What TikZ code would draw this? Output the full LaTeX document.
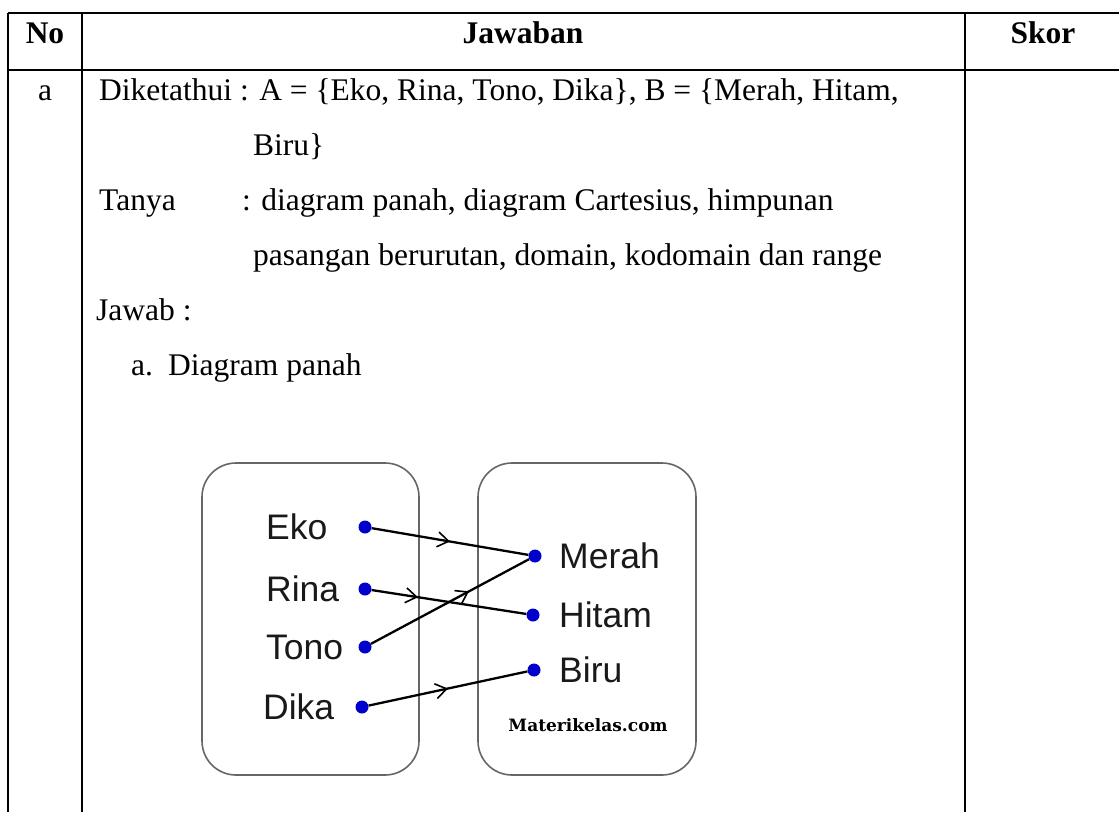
\documentclass[tikz,border=0pt]{standalone}
\usepackage{fontspec}
\setmainfont{Liberation Serif}
\newfontfamily\labelfont{Liberation Sans}
\newfontfamily\wmfont{DejaVu Serif}
\usetikzlibrary{arrows.meta,decorations.markings}
\begin{document}
\begin{tikzpicture}[x=1pt,y=-1pt,
  tablerule/.style={line width=1.6pt,black},
  bodytext/.style={font=\fontsize{31.5}{38}\selectfont,inner sep=0pt},
  headtext/.style={font=\fontsize{31.5}{38}\selectfont\bfseries,inner sep=0pt,anchor=base},
  textline/.style={bodytext,anchor=base west},
  setbox/.style={draw=black!60,line width=1.6pt,rounded corners=34pt},
  elemdot/.style={circle,fill=blue!80!black,inner sep=0pt,minimum size=13pt},
  elemlabel/.style={font=\labelfont\fontsize{35.5}{40}\selectfont,inner sep=0pt,text=black!90,anchor=west},
  mapping/.style={line width=2.3pt,black,
    decoration={markings,mark=at position #1 with {\arrow{Straight Barb[length=11pt,width=15pt,line width=1.6pt]}}},
    postaction={decorate}}]
\useasboundingbox (0,0) rectangle (1119,812);

% table rules
\draw[tablerule] (8,13) -- (1119,13);
\draw[tablerule] (8,70) -- (1119,70);
\draw[tablerule] (8,13) -- (8,812);
\draw[tablerule] (82,13) -- (82,812);
\draw[tablerule] (965,13) -- (965,812);

% header
\node[headtext] (hno) at (45,43) {No};
\node[headtext] (hjaw) at (523,43) {Jawaban};
\node[headtext] (hskor) at (1043,43) {Skor};

% answer text
\node[bodytext,anchor=base] (rowa) at (45,100) {a};
\node[textline] (l1) at (99,100) {Diketathui : A = \{Eko, Rina, Tono, Dika\}, B = \{Merah, Hitam,};
\node[textline] (l2) at (253,155) {Biru\}};
\node[textline] (l3a) at (99,210) {Tanya};
\node[textline] (l3b) at (242,210) {: diagram panah, diagram Cartesius, himpunan};
\node[textline] (l4) at (253,265) {pasangan berurutan, domain, kodomain dan range};
\node[textline] (l5) at (96,320) {Jawab :};
\node[textline] (l6a) at (131,375) {a.};
\node[textline] (l6b) at (168,375) {Diagram panah};

% arrow diagram
\draw[setbox] (202,463) rectangle (419,775);
\draw[setbox] (478,463) rectangle (696,775);

\node[elemlabel] (teko) at (266,527) {Eko};
\node[elemlabel] (trina) at (266,589) {Rina};
\node[elemlabel] (ttono) at (266,647) {Tono};
\node[elemlabel] (tdika) at (263,707) {Dika};
\node[elemlabel] (tmerah) at (559,556) {Merah};
\node[elemlabel] (thitam) at (559,615) {Hitam};
\node[elemlabel] (tbiru) at (559,670) {Biru};

\node[elemdot] (eko) at (365,527) {};
\node[elemdot] (rina) at (365,589) {};
\node[elemdot] (tono) at (365,647) {};
\node[elemdot] (dika) at (362,707) {};
\node[elemdot] (merah) at (535,556) {};
\node[elemdot] (hitam) at (533,615) {};
\node[elemdot] (biru) at (534,670) {};

\draw[mapping=0.5] (eko) -- (merah);
\draw[mapping=0.3] (rina) -- (hitam);
\draw[mapping=0.62] (tono) -- (merah);
\draw[mapping=0.5] (dika) -- (biru);

\node[font=\wmfont\bfseries\fontsize{17}{20}\selectfont,inner sep=0pt] (wm) at (588,725) {Materikelas.com};
\end{tikzpicture}
\end{document}
